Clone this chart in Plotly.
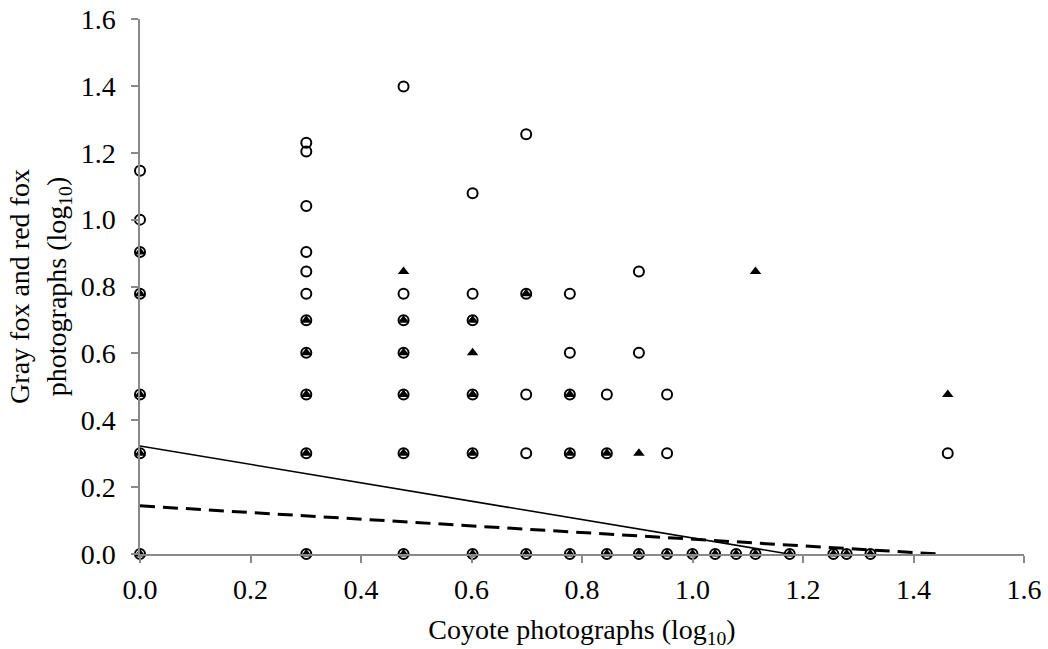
import plotly.graph_objects as go

# ---- Data (log10 values) ----
# Gray fox (open circles)
gray_x = [0, 0, 0, 0, 0, 0, 0,
          0.301, 0.301, 0.301, 0.301, 0.301, 0.301, 0.301, 0.301, 0.301, 0.301, 0.301,
          0.477, 0.477, 0.477, 0.477, 0.477, 0.477, 0.477,
          0.602, 0.602, 0.602, 0.602, 0.602, 0.602,
          0.699, 0.699, 0.699, 0.699, 0.699,
          0.778, 0.778, 0.778, 0.778, 0.778,
          0.845, 0.845, 0.845,
          0.903, 0.903, 0.903,
          0.954, 0.954, 0.954,
          1.000, 1.041, 1.079, 1.114, 1.176, 1.255, 1.279, 1.322,
          1.462]
gray_y = [1.146, 1.000, 0.903, 0.778, 0.477, 0.301, 0,
          1.230, 1.204, 1.041, 0.903, 0.845, 0.778, 0.699, 0.602, 0.477, 0.301, 0,
          1.398, 0.778, 0.699, 0.602, 0.477, 0.301, 0,
          1.079, 0.778, 0.699, 0.477, 0.301, 0,
          1.255, 0.778, 0.477, 0.301, 0,
          0.778, 0.602, 0.477, 0.301, 0,
          0.477, 0.301, 0,
          0.845, 0.602, 0,
          0.477, 0.301, 0,
          0, 0, 0, 0, 0, 0, 0, 0,
          0.301]

# Red fox (filled triangles)
red_x = [0, 0, 0, 0, 0,
         0.301, 0.301, 0.301, 0.301, 0.301,
         0.477, 0.477, 0.477, 0.477, 0.477, 0.477,
         0.602, 0.602, 0.602, 0.602, 0.602,
         0.699, 0.699,
         0.778, 0.778, 0.778,
         0.845, 0.845,
         0.903, 0.903,
         0.954,
         1.000, 1.041, 1.079, 1.114, 1.114, 1.176, 1.255, 1.279, 1.322,
         1.462]
red_y = [0.903, 0.778, 0.477, 0.301, 0,
         0.699, 0.602, 0.477, 0.301, 0,
         0.845, 0.699, 0.602, 0.477, 0.301, 0,
         0.699, 0.602, 0.477, 0.301, 0,
         0.778, 0,
         0.477, 0.301, 0,
         0.301, 0,
         0.301, 0,
         0,
         0, 0, 0, 0.845, 0, 0, 0, 0, 0,
         0.477]

# Linear trend lines (intercept, slope)
trend_names = ["Gray fox trend", "Red fox trend"]
trend_intercepts = [0.323, 0.144]
trend_slopes = [-0.275, -0.0997]

x_ticks = [0.0, 0.2, 0.4, 0.6, 0.8, 1.0, 1.2, 1.4, 1.6]
y_ticks = [0.0, 0.2, 0.4, 0.6, 0.8, 1.0, 1.2, 1.4, 1.6]

FONT = "Liberation Serif, Times New Roman, serif"
AXIS_COLOR = "#898989"

fig = go.Figure()

fig.add_trace(go.Scatter(
    x=gray_x, y=gray_y, mode="markers", name="Gray fox",
    marker=dict(symbol="circle-open", size=10, color="black",
                line=dict(color="black", width=2)),
    cliponaxis=False, showlegend=False))

fig.add_trace(go.Scatter(
    x=red_x, y=red_y, mode="markers", name="Red fox",
    marker=dict(symbol="triangle-up", size=10, color="black",
                line=dict(width=0)),
    cliponaxis=False, showlegend=False))

series_max = [max(gray_x), max(red_x)]
dashes = ["solid", "15px,8px"]
widths = [1.6, 3]
for name, b, m, xm, d, w in zip(trend_names, trend_intercepts, trend_slopes,
                                series_max, dashes, widths):
    x_end = min(xm, -b / m)
    xs = [0, x_end]
    ys = [b + m * xv for xv in xs]
    fig.add_trace(go.Scatter(x=xs, y=ys, mode="lines", name=name,
                             line=dict(color="black", width=w, dash=d),
                             showlegend=False))

fig.update_layout(
    width=1048, height=649,
    margin=dict(l=140, r=24, t=19, b=95),
    paper_bgcolor="white", plot_bgcolor="white",
    font=dict(family=FONT, size=28, color="black"),
    showlegend=False,
)

fig.update_xaxes(
    range=[0, 1.6], tickvals=x_ticks, ticktext=[f"{v:.1f}" for v in x_ticks],
    showgrid=False, zeroline=False, automargin=False,
    showline=True, linecolor=AXIS_COLOR, linewidth=1.5,
    ticks="outside", ticklen=7, tickwidth=1.5, tickcolor=AXIS_COLOR,
    ticklabelstandoff=3,
    tickfont=dict(family=FONT, size=28, color="black"),
    title=dict(text="Coyote photographs (log<sub>10</sub>)",
               font=dict(family=FONT, size=28, color="black"), standoff=15),
)
fig.update_yaxes(
    range=[0, 1.6], tickvals=y_ticks, ticktext=[f"{v:.1f}" for v in y_ticks],
    showgrid=False, zeroline=False, automargin=False,
    showline=True, linecolor=AXIS_COLOR, linewidth=1.5,
    ticks="outside", ticklen=7, tickwidth=1.5, tickcolor=AXIS_COLOR,
    ticklabelstandoff=10,
    tickfont=dict(family=FONT, size=28, color="black"),
    title=dict(text="Gray fox and red fox<br>photographs (log<sub>10</sub>)",
               font=dict(family=FONT, size=28, color="black"), standoff=6),
)

fig.write_html("out.html")
